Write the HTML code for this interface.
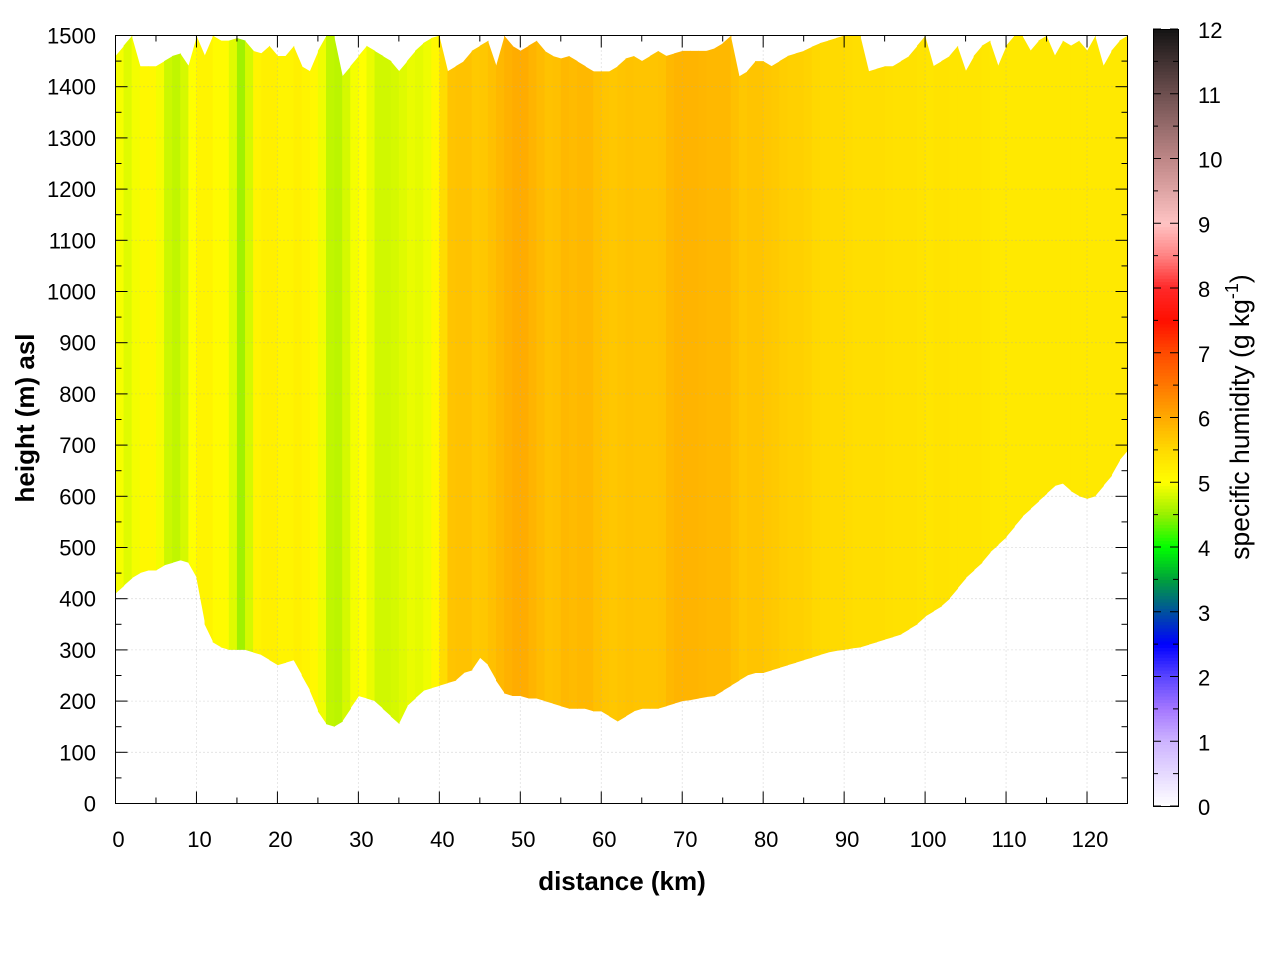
<!DOCTYPE html>
<html><head><meta charset="utf-8"><style>
body{margin:0;background:#fff;}
svg text{font-family:"Liberation Sans",sans-serif;fill:#000;}
</style></head><body>
<svg id="chart" width="1280" height="960" xmlns="http://www.w3.org/2000/svg">
<g id="heat"></g>
<g id="grid"></g>
<rect x="115.5" y="35.5" width="1012" height="768" fill="none" stroke="#000" stroke-width="1"/>
<g id="axes"></g>
<g id="cbar"></g>
<text x="622" y="890" font-size="26" font-weight="bold" text-anchor="middle">distance (km)</text>
<text transform="translate(34,418) rotate(-90)" font-size="26" font-weight="bold" text-anchor="middle">height (m) asl</text>
<text transform="translate(1249,417) rotate(-90)" font-size="26.5" text-anchor="middle">specific humidity (g kg<tspan dy="-11" font-size="18">-1</tspan><tspan dy="11">)</tspan></text>
</svg>
<script>
const distKm=[0,1,2,3,4,5,6,7,8,9,10,11,12,13,14,15,16,17,18,19,20,21,22,23,24,25,26,27,28,29,30,31,32,33,34,35,36,37,38,39,40,41,42,43,44,45,46,47,48,49,50,51,52,53,54,55,56,57,58,59,60,61,62,63,64,65,66,67,68,69,70,71,72,73,74,75,76,77,78,79,80,81,82,83,84,85,86,87,88,89,90,91,92,93,94,95,96,97,98,99,100,101,102,103,104,105,106,107,108,109,110,111,112,113,114,115,116,117,118,119,120,121,122,123,124,125];
const bottomM=[410,425,440,450,455,455,465,470,475,470,440,350,315,305,300,300,300,295,290,280,270,275,280,250,220,180,155,150,160,185,210,205,200,185,170,155,190,205,220,225,230,235,240,255,260,285,270,240,215,210,210,205,205,200,195,190,185,185,185,180,180,170,160,170,180,185,185,185,190,195,200,202,205,208,210,220,230,240,250,255,255,260,265,270,275,280,285,290,295,298,300,303,305,310,315,320,325,330,340,350,365,375,385,400,420,440,455,470,490,505,520,540,560,575,590,605,620,625,610,600,595,600,620,640,670,690];
const topM=[1460,1480,1500,1440,1440,1440,1450,1460,1465,1440,1500,1460,1500,1490,1490,1495,1490,1470,1465,1480,1460,1460,1480,1440,1430,1470,1500,1500,1420,1440,1460,1480,1470,1460,1450,1430,1450,1470,1485,1495,1500,1430,1440,1450,1470,1480,1490,1440,1500,1480,1470,1480,1490,1470,1460,1455,1460,1450,1440,1430,1430,1430,1440,1455,1460,1450,1460,1470,1460,1465,1470,1470,1470,1470,1475,1485,1500,1420,1430,1450,1450,1440,1450,1460,1465,1470,1478,1485,1490,1495,1500,1500,1500,1430,1435,1440,1440,1450,1460,1480,1500,1440,1450,1460,1480,1430,1460,1480,1490,1440,1480,1500,1500,1470,1490,1500,1460,1490,1480,1490,1470,1500,1440,1470,1490,1500];
const humidity=[5.0,4.9,4.8,5.1,5.1,5.1,4.8,4.7,4.7,4.9,5.1,5.2,5.1,5.0,5.1,4.6,4.5,5.1,5.2,5.2,5.2,5.1,5.2,5.2,5.1,5.1,4.75,4.65,4.7,4.9,5.0,5.0,4.8,4.75,4.8,4.8,4.9,4.9,4.85,5.0,5.2,5.75,5.7,5.8,5.7,5.65,5.75,5.8,5.9,5.95,6.0,5.95,5.85,5.8,5.7,5.85,5.85,5.8,5.9,5.8,5.75,5.7,5.7,5.75,5.75,5.7,5.75,5.7,5.8,5.9,5.9,5.9,5.9,5.85,5.85,5.85,5.85,5.7,5.7,5.75,5.7,5.7,5.65,5.6,5.6,5.6,5.55,5.5,5.5,5.5,5.5,5.45,5.45,5.45,5.45,5.45,5.4,5.4,5.4,5.4,5.35,5.35,5.4,5.35,5.35,5.35,5.35,5.35,5.3,5.3,5.3,5.3,5.3,5.3,5.3,5.3,5.3,5.3,5.3,5.3,5.3,5.3,5.3,5.3,5.3,5.3];
const xTicks=[0,10,20,30,40,50,60,70,80,90,100,110,120];
const yTicks=[0,100,200,300,400,500,600,700,800,900,1000,1100,1200,1300,1400,1500];
const cbTicks=[0,1,2,3,4,5,6,7,8,9,10,11,12];

const NS="http://www.w3.org/2000/svg";
const X0=115.5,X1=1127.5,Y0=803.5,Y1=35.5;
const xs=v=>X0+(v/125)*(X1-X0);
const ys=v=>Y0-(v/1500)*(Y0-Y1);
const CB={x:1153,w:25,top:29,bot:806};
const cs=v=>CB.bot-(v/12)*(CB.bot-CB.top);
const stops=[[0,[255,255,255]],[1,[205,180,255]],[1.5,[165,120,255]],[2,[90,70,255]],[2.5,[0,0,255]],[3,[0,80,160]],[3.5,[0,160,60]],[4,[0,255,0]],[4.5,[150,240,0]],[5,[255,255,0]],[5.5,[255,218,0]],[6,[255,170,0]],[6.5,[255,120,0]],[7,[255,75,0]],[7.5,[255,15,0]],[8,[255,40,40]],[8.5,[255,130,130]],[9,[255,195,195]],[10,[190,135,135]],[11,[110,80,80]],[12,[20,20,20]]];
function col(v){
 for(let i=0;i<stops.length-1;i++){const[a,ca]=stops[i],[b,cb]=stops[i+1];
  if(v<=b){const t=Math.max(0,(v-a)/(b-a));return `rgb(${ca.map((c,k)=>Math.round(c+(cb[k]-c)*t)).join(',')})`;}}
 return 'rgb(20,20,20)';
}
function mk(tag,attrs,parent){const e=document.createElementNS(NS,tag);for(const k in attrs)e.setAttribute(k,attrs[k]);parent.appendChild(e);return e;}
const heat=document.getElementById('heat');
for(let i=0;i<distKm.length-1;i++){
 const xa=xs(distKm[i]),xb=xs(distKm[i+1]);
 const p=mk('polygon',{points:`${xa},${ys(topM[i])} ${xb+0.6},${ys(topM[i+1])} ${xb+0.6},${ys(bottomM[i+1])} ${xa},${ys(bottomM[i])}`,fill:col((humidity[i]+humidity[i+1])/2)},heat);
 
 
}
const grid=document.getElementById('grid');
xTicks.forEach(v=>{if(v>0){const l=mk('line',{x1:xs(v),x2:xs(v),y1:Y0,y2:Y1,stroke:'#aaa','stroke-width':0.8,'stroke-dasharray':'1,3',opacity:0.7},grid);}});
yTicks.forEach(v=>{if(v>0&&v<1500){const l=mk('line',{x1:X0,x2:X1,y1:ys(v),y2:ys(v),stroke:'#aaa','stroke-width':0.8,'stroke-dasharray':'1,3',opacity:0.7},grid);}});
const axes=document.getElementById('axes');
for(let v=0;v<=125;v+=5){const L=v%10===0?12:6;const x=xs(v);
 mk('line',{x1:x,x2:x,y1:Y0,y2:Y0-L,stroke:'#000'},axes);mk('line',{x1:x,x2:x,y1:Y1,y2:Y1+L,stroke:'#000'},axes);}
for(let v=0;v<=1500;v+=50){const L=v%100===0?12:6;const y=ys(v);
 mk('line',{x1:X0,x2:X0+L,y1:y,y2:y,stroke:'#000'},axes);mk('line',{x1:X1,x2:X1-L,y1:y,y2:y,stroke:'#000'},axes);}
xTicks.forEach(v=>{const t=mk('text',{x:xs(v)+3,y:847,'font-size':22,'text-anchor':'middle'},axes);t.textContent=v;});
yTicks.forEach(v=>{const t=mk('text',{x:96,y:ys(v)+8,'font-size':22,'text-anchor':'end'},axes);t.textContent=v;});
const cbar=document.getElementById('cbar');
for(let v=0;v<12;v+=0.05){mk('rect',{x:CB.x,y:cs(v+0.05),width:CB.w,height:(CB.bot-CB.top)/240+0.6,fill:col(v+0.025)},cbar);}
mk('rect',{x:CB.x+0.5,y:CB.top+0.5,width:CB.w,height:CB.bot-CB.top,fill:'none',stroke:'#000'},cbar);
for(let v=0;v<=12;v+=0.5){const L=v%1===0?8:5;const y=cs(v);
 mk('line',{x1:CB.x,x2:CB.x+L,y1:y,y2:y,stroke:'#000'},cbar);mk('line',{x1:CB.x+CB.w,x2:CB.x+CB.w-L,y1:y,y2:y,stroke:'#000'},cbar);}
cbTicks.forEach(v=>{const t=mk('text',{x:1198,y:cs(v)+9,'font-size':22},cbar);t.textContent=v;});
</script>
</body></html>
